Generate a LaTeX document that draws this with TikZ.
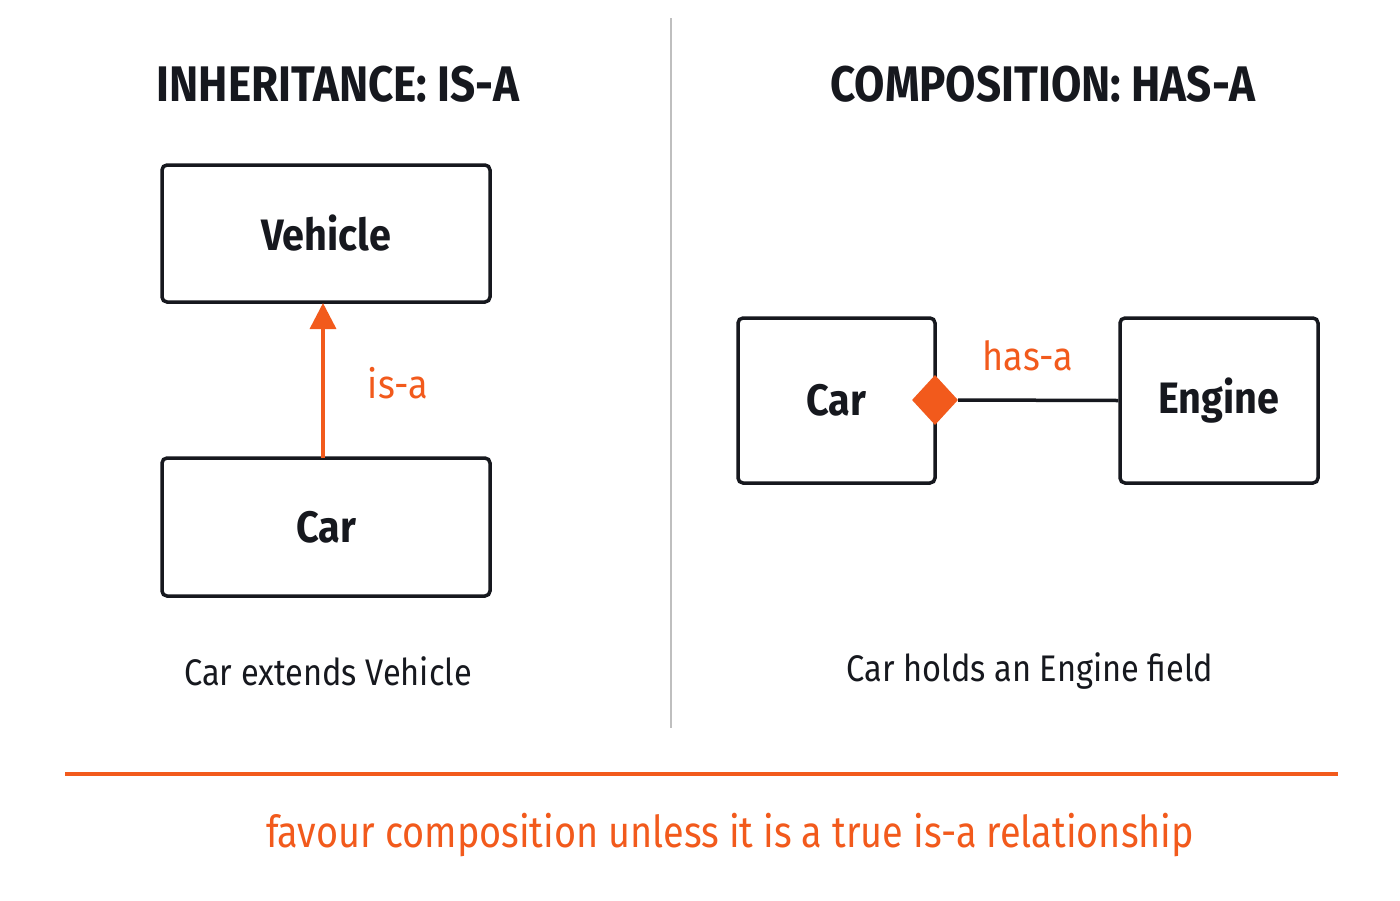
\documentclass[tikz,border=0pt]{standalone}
\usepackage{fontspec}
\setmainfont{Fira Sans}
\usetikzlibrary{shapes.geometric,arrows.meta}
\definecolor{org}{RGB}{242,90,28}
\definecolor{ink}{RGB}{22,24,30}
\begin{document}
\begin{tikzpicture}[x=1pt,y=-1pt,
  box/.style={draw=ink,line width=3.5pt,rounded corners=5pt,inner sep=0pt,font=\fontsize{44}{50}\selectfont\bfseries,text=ink},
  ttl/.style={font=\fontsize{50}{56}\selectfont\bfseries,text=ink},
  captxt/.style={font=\fontsize{37}{42}\selectfont\mdseries,text=ink}]
\useasboundingbox (0,0) rectangle (1400,900);
\fill[white] (0,0) rectangle (1400,900);
\draw[gray!50,line width=2pt] (671,18) -- (671,728);
\node[ttl] (t1) at (338,84) {\scalebox{0.88}[1]{INHERITANCE: IS-A}};
\node[ttl] (t2) at (1043,84) {\scalebox{0.88}[1]{COMPOSITION: HAS-A}};
\node[box,minimum width=328pt,minimum height=137pt] (veh) at (326,233.5) {\scalebox{0.9}[1]{Vehicle}};
\node[box,minimum width=328pt,minimum height=138pt] (car) at (326,527) {\scalebox{0.9}[1]{Car}};
\coordinate (a1) at (323,458);
\coordinate (a2) at (323,303);
\draw[org,line width=3.5pt,-{Triangle[length=26pt,width=26pt]}] (a1) -- (a2);
\node[font=\fontsize{40}{46}\selectfont\mdseries,text=org] (isa) at (398,383) {\scalebox{0.9}[1]{is-a}};
\node[captxt] (c1) at (328,671) {\scalebox{0.88}[1]{Car extends Vehicle}};
\node[box,minimum width=197pt,minimum height=165pt] (car2) at (836.5,400.5) {\scalebox{0.9}[1]{Car}};
\node[box,minimum width=198pt,minimum height=165pt] (eng) at (1219,400.5) {\scalebox{0.9}[1]{Engine}};
\node[diamond,fill=org,minimum width=46pt,minimum height=50pt,inner sep=0pt] (dia) at (935,400) {};
\draw[ink,line width=3.5pt] (dia.east) -- (eng.west);
\node[font=\fontsize{40}{46}\selectfont\mdseries,text=org] (hasa) at (1028,356) {\scalebox{0.9}[1]{has-a}};
\node[captxt] (c2) at (1030,671) {\scalebox{0.88}[1]{Car holds an Engine field}};
\coordinate (l1) at (65,774);
\coordinate (l2) at (1338,774);
\draw[org,line width=3.5pt] (l1) -- (l2);
\node[font=\fontsize{44}{50}\selectfont\mdseries,text=org] (bot) at (730,835) {\scalebox{0.86}[1]{favour composition unless it is a true is-a relationship}};
\end{tikzpicture}
\end{document}
